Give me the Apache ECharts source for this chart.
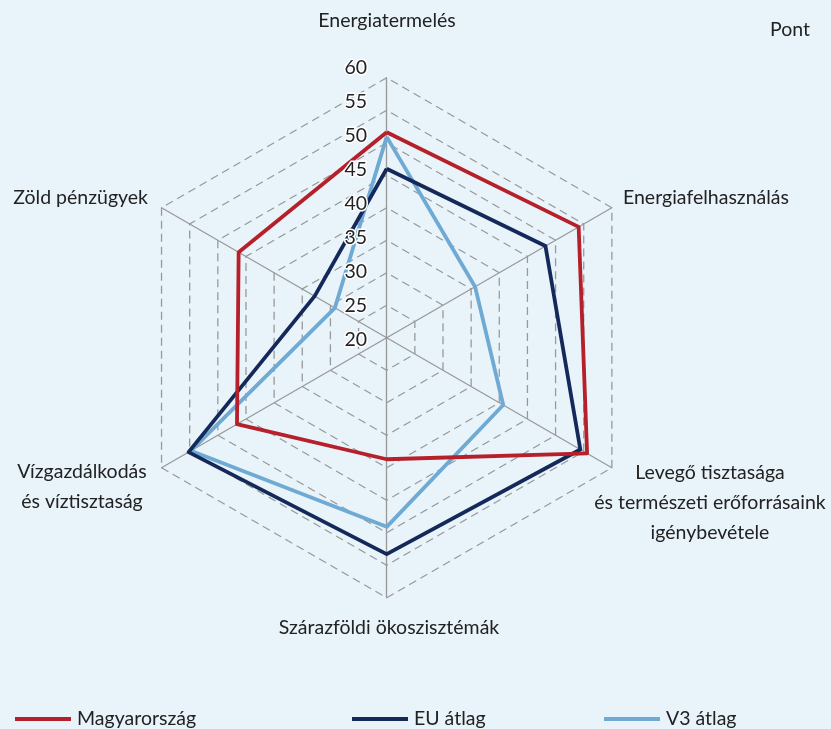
<!DOCTYPE html>
<html>
<head>
<meta charset="utf-8">
<script src="https://cdn.jsdelivr.net/npm/echarts@6/dist/echarts.min.js"></script>
<style>
html,body{margin:0;padding:0;background:#E9F3FA;}
#chart{width:831px;height:729px;}
</style>
</head>
<body>
<div id="chart"></div>
<script>
// Categories in clockwise order starting from the top
const categories = [
  'Energiatermelés',
  'Energiafelhasználás',
  'Levegő tisztasága\nés természeti erőforrásaink\nigénybevétele',
  'Szárazföldi ökoszisztémák',
  'Vízgazdálkodás\nés víztisztaság',
  'Zöld pénzügyek'
];
const seriesNames = ['Magyarország', 'EU átlag', 'V3 átlag'];
const hungary = [51.6, 54.1, 55.6, 38.7, 46.6, 46.3];
const euAvg   = [46.0, 48.2, 54.4, 53.3, 55.2, 32.8];
const v3Avg   = [50.9, 35.7, 40.7, 49.1, 54.8, 29.2];
const axisMin = 20, axisMax = 60, axisStep = 5;
const unitLabel = 'Pont';

const colors = ['#B5202A', '#14295A', '#6FAAD4'];
const FONT = 'Lato';
const FS = 19.5;

// ECharts radar runs counter-clockwise; reorder indices
const ccw = [0, 5, 4, 3, 2, 1];
const reorder = arr => ccw.map(i => arr[i]);

const cx = 386.7, cy = 337.7, R = 260;

// Name label placement (style only)
const namePlace = [
  {x: 387, y: 21, align: 'center'},
  {x: 623, y: 198, align: 'left'},
  {x: 710, y: 503, align: 'center'},
  {x: 389, y: 628, align: 'center'},
  {x: 82, y: 487, align: 'center'},
  {x: 148, y: 198, align: 'right'}
];

const chart = echarts.init(document.getElementById('chart'));
const allData = [hungary, euAvg, v3Avg];

const option = {
  backgroundColor: '#E9F3FA',
  animation: false,
  textStyle: {fontFamily: FONT},
  grid: {left: 375, right: 831 - 376, top: 67.3, bottom: 729 - 340, show: false},
  xAxis: {type: 'value', show: false, min: 0, max: 1},
  yAxis: {
    type: 'value', min: axisMin, max: axisMax, interval: axisStep,
    position: 'left',
    axisLine: {show: false}, axisTick: {show: false}, splitLine: {show: false},
    axisLabel: {
      margin: 8, fontSize: FS, fontFamily: FONT, color: '#222',
      textBorderColor: '#fff', textBorderWidth: 3
    },
    z: 10
  },
  radar: {
    center: [cx, cy],
    radius: R,
    startAngle: 90,
    shape: 'polygon',
    splitNumber: (axisMax - axisMin) / axisStep,
    indicator: reorder(categories).map(n => ({name: n, min: axisMin, max: axisMax})),
    axisName: {show: false},
    axisLine: {lineStyle: {color: '#999999', width: 1.3}},
    splitLine: {lineStyle: {color: '#999999', width: 1.3, type: [8, 5]}},
    splitArea: {show: false},
    axisTick: {show: false},
    axisLabel: {show: false}
  },
  legend: seriesNames.map((n, i) => ({
    data: [n],
    left: [10, 347, 599][i],
    top: 704,
    icon: 'rect',
    itemWidth: 56,
    itemHeight: 4,
    textStyle: {fontSize: FS, fontFamily: FONT, color: '#222', padding: [0, 0, 0, 1]}
  })),
  series: seriesNames.map((n, i) => ({
    type: 'radar',
    name: n,
    symbol: 'none',
    z: 5 - i,
    data: [{name: n, value: reorder(allData[i])}],
    lineStyle: {color: colors[i], width: 3.8},
    itemStyle: {color: colors[i]}
  })),
  graphic: categories.map((c, i) => ({
    type: 'text',
    x: namePlace[i].x,
    y: namePlace[i].y,
    style: {
      text: c,
      fontSize: FS,
      fontFamily: FONT,
      fill: '#222',
      align: namePlace[i].align,
      verticalAlign: 'middle',
      lineHeight: 30
    }
  })).concat([{
    type: 'text', x: 790, y: 30,
    style: {text: unitLabel, fontSize: FS, fontFamily: FONT, fill: '#222', align: 'center', verticalAlign: 'middle'}
  }])
};
chart.setOption(option);
</script>
</body>
</html>
